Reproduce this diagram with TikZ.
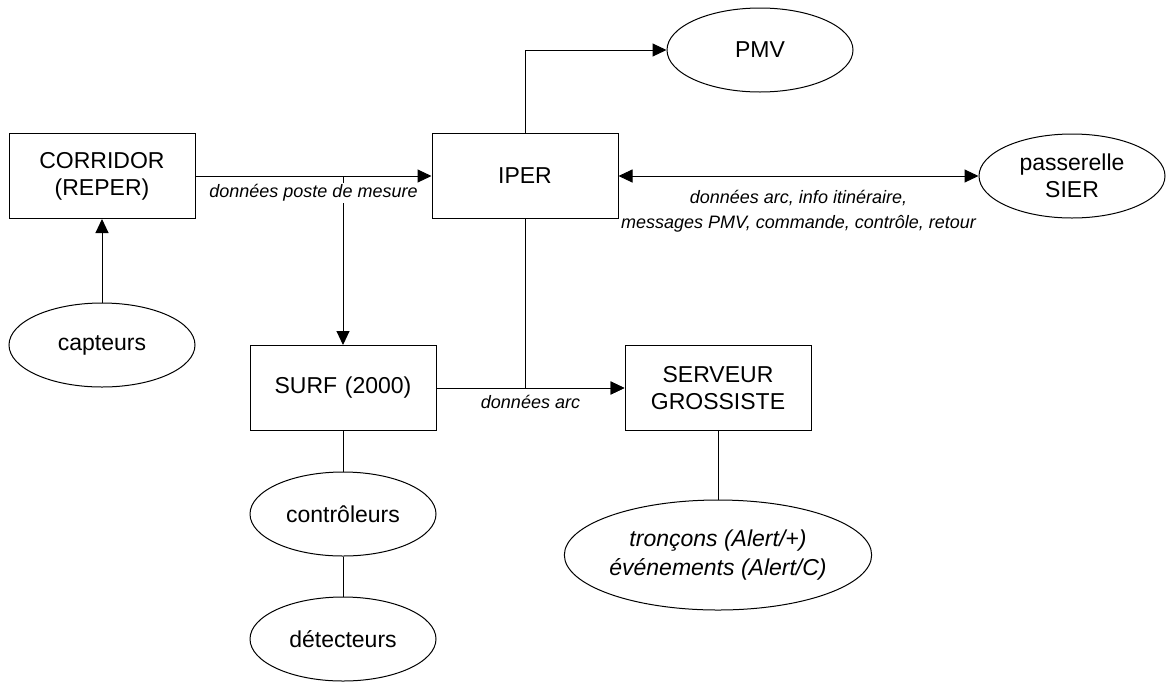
\documentclass[tikz,border=0pt]{standalone}
\usepackage{fontspec}
\setmainfont{Liberation Sans}
\usetikzlibrary{shapes,arrows.meta}
\tikzstyle{block} = [rectangle, draw, inner sep=8pt,
    text width=170pt, text centered, minimum height=85pt,
    font=\fontsize{23}{27}\selectfont]
\tikzstyle{bulle} = [ellipse, draw, inner sep=0pt, align=center,
    minimum width=186pt, minimum height=84pt,
    font=\fontsize{23}{27}\selectfont]
\tikzstyle{line} = [draw, ->]
\tikzstyle{etiq} = [fill=white, inner sep=2pt, align=center,
    font=\fontsize{18}{25}\selectfont\itshape]

\begin{document}
\begin{tikzpicture}[x=1pt, y=-1pt, line width=1pt, >={Triangle[length=14pt,width=13pt]}]
		\useasboundingbox (0,0) rectangle (1166,681);
		\node [block] (corridor) at (102,176) {CORRIDOR\\(REPER)};
		\node [block, right of=corridor, node distance=423pt] (iper) {IPER};
		\node [bulle, right of=iper, node distance=547pt] (sier) {passerelle\\SIER};
		\node [bulle] (pmv) at (760,50) {PMV};
		\node [bulle, below of=corridor, node distance=169pt] (capteurs) {capteurs};
		\node [block] (surf) at (343,388) {SURF (2000)};
		\node [block, right of=surf, node distance=375pt] (serveur) {SERVEUR\\GROSSISTE};
		\node [bulle, below of=surf, node distance=126pt] (ctrl) {contrôleurs};
		\node [bulle, below of=ctrl, node distance=125pt] (detect) {détecteurs};
		\node [bulle, below of=serveur, node distance=167pt, minimum width=288pt,
			minimum height=110pt, font=\fontsize{23}{29}\selectfont\itshape] (troncons)
			{tronçons (Alert/+)\\événements (Alert/C)};
		
		\coordinate (mesure) at (surf.north |- corridor.east);
		\path [line] (mesure) -- (surf);
		\path [line] (capteurs) -- (corridor);
		\path [line] (corridor) -- node [etiq, below=6pt] {données poste de mesure} (iper);
		\path [line] (iper.north) |- (pmv.west);
		\path [line, <->] (iper) -- node [etiq, below=12pt]
			{données arc, info itinéraire,\\messages PMV, commande, contrôle, retour} (sier);
		\path [line] (iper.south) |- (serveur.west);
		\path [line] (surf) -- node [etiq, below=5pt] {données arc} (serveur);
		\path [draw] (surf) -- (ctrl);
		\path [draw] (ctrl) -- (detect);
		\path [draw] (serveur) -- (troncons);
	\end{tikzpicture}
\end{document}
